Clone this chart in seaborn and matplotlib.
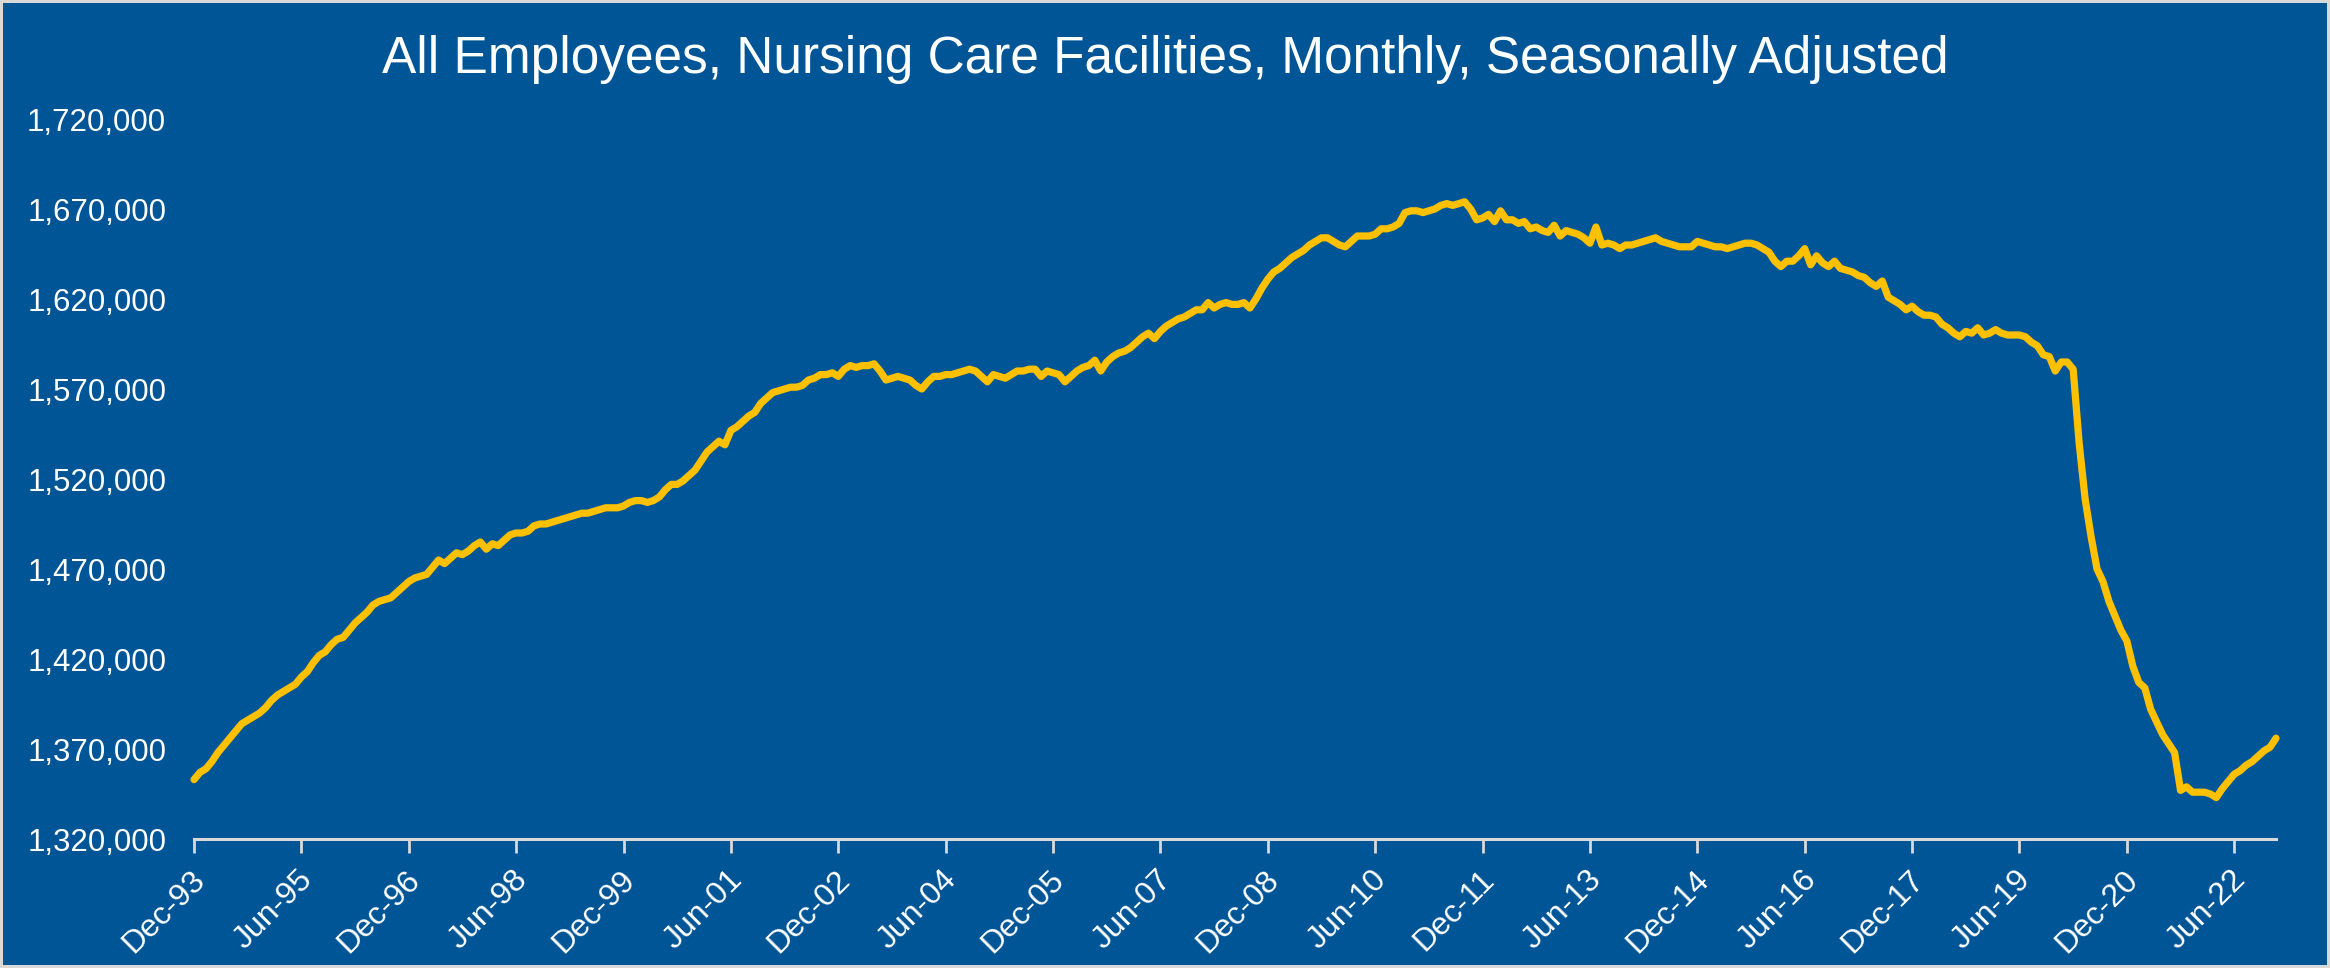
import matplotlib
matplotlib.use("Agg")
import matplotlib.pyplot as plt
import matplotlib.ticker as mticker
import matplotlib.transforms as mtransforms
import numpy as np
import pandas as pd
import seaborn as sns

# ---------------------------------------------------------------------------
# Colours
# ---------------------------------------------------------------------------

BG   = "#005596"
GOLD = "#FFC000"
AXIS = "#D9D9D9"

# ---------------------------------------------------------------------------
# Data: all employees, nursing care facilities (thousands), monthly SA
# ---------------------------------------------------------------------------

DEC_1993 = [1353]
Y1994 = [1357, 1359, 1363, 1368, 1372, 1376, 1380, 1384, 1386, 1388, 1390, 1393]
Y1995 = [1397, 1400, 1402, 1404, 1406, 1410, 1413, 1418, 1422, 1424, 1428, 1431]
Y1996 = [1432, 1436, 1440, 1443, 1446, 1450, 1452, 1453, 1454, 1457, 1460, 1463]
Y1997 = [1465, 1466, 1467, 1471, 1475, 1473, 1476, 1479, 1478, 1480, 1483, 1485]
Y1998 = [1481, 1484, 1483, 1486, 1489, 1490, 1490, 1491, 1494, 1495, 1495, 1496]
Y1999 = [1497, 1498, 1499, 1500, 1501, 1501, 1502, 1503, 1504, 1504, 1504, 1505]
Y2000 = [1507, 1508, 1508, 1507, 1508, 1510, 1514, 1517, 1517, 1519, 1522, 1525]
Y2001 = [1530, 1535, 1538, 1541, 1539, 1547, 1549, 1552, 1555, 1557, 1562, 1565]
Y2002 = [1568, 1569, 1570, 1571, 1571, 1572, 1575, 1576, 1578, 1578, 1579, 1577]
Y2003 = [1581, 1583, 1582, 1583, 1583, 1584, 1580, 1575, 1576, 1577, 1576, 1575]
Y2004 = [1572, 1570, 1574, 1577, 1577, 1578, 1578, 1579, 1580, 1581, 1580, 1577]
Y2005 = [1574, 1578, 1577, 1576, 1578, 1580, 1580, 1581, 1581, 1577, 1580, 1579]
Y2006 = [1578, 1574, 1577, 1580, 1582, 1583, 1586, 1580, 1585, 1588, 1590, 1591]
Y2007 = [1593, 1596, 1599, 1601, 1598, 1602, 1605, 1607, 1609, 1610, 1612, 1614]
Y2008 = [1614, 1618, 1615, 1617, 1618, 1617, 1617, 1618, 1615, 1620, 1626, 1631]
Y2009 = [1635, 1637, 1640, 1643, 1645, 1647, 1650, 1652, 1654, 1654, 1652, 1650]
Y2010 = [1649, 1652, 1655, 1655, 1655, 1656, 1659, 1659, 1660, 1662, 1668, 1669]
Y2011 = [1669, 1668, 1669, 1670, 1672, 1673, 1672, 1673, 1674, 1670, 1664, 1665]
Y2012 = [1667, 1663, 1669, 1664, 1664, 1662, 1663, 1659, 1660, 1658, 1657, 1661]
Y2013 = [1655, 1658, 1657, 1656, 1654, 1651, 1660, 1650, 1651, 1650, 1648, 1650]
Y2014 = [1650, 1651, 1652, 1653, 1654, 1652, 1651, 1650, 1649, 1649, 1649, 1652]
Y2015 = [1651, 1650, 1649, 1649, 1648, 1649, 1650, 1651, 1651, 1650, 1648, 1646]
Y2016 = [1641, 1638, 1641, 1641, 1644, 1648, 1639, 1644, 1640, 1638, 1641, 1637]
Y2017 = [1636, 1635, 1633, 1632, 1629, 1627, 1630, 1621, 1619, 1617, 1614, 1616]
Y2018 = [1613, 1611, 1611, 1610, 1606, 1604, 1601, 1599, 1602, 1601, 1604, 1600]
Y2019 = [1601, 1603, 1601, 1600, 1600, 1600, 1599, 1596, 1594, 1589, 1588, 1580]
Y2020 = [1585, 1585, 1581, 1540, 1509, 1488, 1470, 1463, 1452, 1444, 1436, 1430]
Y2021 = [1416, 1407, 1404, 1392, 1385, 1378, 1373, 1368, 1347, 1349, 1346, 1346]
Y2022 = [1346, 1345, 1343, 1348, 1352, 1356, 1358, 1361, 1363, 1366, 1369, 1371]
Y2023 = [1376]

TICK_LABELS = [
    "Dec-93", "Jun-95", "Dec-96", "Jun-98", "Dec-99", "Jun-01", "Dec-02",
    "Jun-04", "Dec-05", "Jun-07", "Dec-08", "Jun-10", "Dec-11", "Jun-13",
    "Dec-14", "Jun-16", "Dec-17", "Jun-19", "Dec-20", "Jun-22",
]
TICK_STEP = 18                         # months between labels
Y_TICKS = list(range(1320, 1721, 50))  # thousands

TITLE = "All Employees, Nursing Care Facilities, Monthly, Seasonally Adjusted"

values = (DEC_1993 + Y1994 + Y1995 + Y1996 + Y1997 + Y1998 + Y1999 + Y2000
          + Y2001 + Y2002 + Y2003 + Y2004 + Y2005 + Y2006 + Y2007 + Y2008
          + Y2009 + Y2010 + Y2011 + Y2012 + Y2013 + Y2014 + Y2015 + Y2016
          + Y2017 + Y2018 + Y2019 + Y2020 + Y2021 + Y2022 + Y2023)
df = pd.DataFrame({"month": np.arange(len(values)), "employees": values})

# ---------------------------------------------------------------------------
# Plot
# ---------------------------------------------------------------------------

sns.set_theme(style="white")
plt.rcParams["font.family"] = ["Liberation Sans", "DejaVu Sans"]

W, H = 2330, 968
fig = plt.figure(figsize=(W / 100, H / 100), dpi=100, facecolor=BG)
ax = fig.add_axes([194 / W, 129 / H, (2276 - 194) / W, 720 / H])
ax.set_facecolor(BG)

sns.lineplot(data=df, x="month", y="employees", ax=ax, color=GOLD,
             linewidth=5.2, solid_joinstyle="round", solid_capstyle="round",
             clip_on=False)

ax.set_xlim(0, len(values) - 1)
ax.set_ylim(Y_TICKS[0], Y_TICKS[-1])
ax.set_xlabel("")
ax.set_ylabel("")

ax.set_xticks(np.arange(len(TICK_LABELS)) * TICK_STEP)
ax.set_xticklabels(TICK_LABELS, rotation=45, ha="right", va="center",
                   rotation_mode="anchor")
ax.set_yticks(Y_TICKS)
ax.yaxis.set_major_formatter(mticker.FuncFormatter(lambda v, _: f"{v * 1000:,.0f}"))

ax.tick_params(axis="x", colors=AXIS, length=10, width=2, labelcolor="white",
               labelsize=23, pad=19, bottom=True)
ax.tick_params(axis="y", length=0, labelcolor="white", labelsize=22.5, pad=20)

# nudge rotated labels so their ends sit just right of / below each tick
shift = mtransforms.ScaledTranslation(0.07, 0.04, fig.dpi_scale_trans)
for lbl in ax.get_xticklabels():
    lbl.set_transform(lbl.get_transform() + shift)

for side in ["top", "right", "left"]:
    ax.spines[side].set_visible(False)
ax.spines["bottom"].set_color(AXIS)
ax.spines["bottom"].set_linewidth(2.2)
ax.grid(False)

fig.text(0.5, 1 - 73 / H, TITLE, ha="center", va="baseline",
         color="white", fontsize=37)

fig.patch.set_edgecolor(AXIS)
fig.patch.set_linewidth(4)

fig.savefig("out.png", dpi=100, facecolor=BG, edgecolor=AXIS)
